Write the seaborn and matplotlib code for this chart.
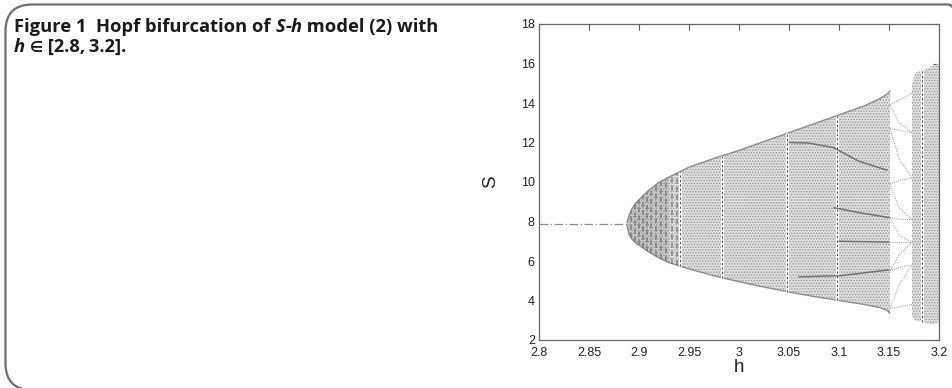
import numpy as np
import pandas as pd
import seaborn as sns
import matplotlib
matplotlib.use("Agg")
import matplotlib.pyplot as plt
from matplotlib.patches import FancyBboxPatch
from matplotlib.offsetbox import TextArea, HPacker, AnchoredOffsetbox

# ---- data -------------------------------------------------------------
# stable equilibrium before the Hopf point
fixed_h = [2.80, 2.889]
fixed_S = [7.87, 7.87]

# envelope of the invariant-circle / chaotic attractor
env_h     = [2.888, 2.890, 2.893, 2.897, 2.900, 2.910, 2.920, 2.930, 2.950, 2.975,
             3.000, 3.025, 3.050, 3.075, 3.100, 3.125, 3.140, 3.148, 3.151]
env_upper = [7.95, 8.30, 8.65, 8.95, 9.10, 9.60, 9.98, 10.25, 10.75, 11.20,
             11.60, 12.05, 12.50, 12.95, 13.40, 13.85, 14.20, 14.45, 14.60]
env_lower = [7.80, 7.35, 7.10, 6.90, 6.80, 6.45, 6.15, 5.92, 5.60, 5.25,
             4.95, 4.68, 4.43, 4.20, 4.00, 3.80, 3.65, 3.50, 3.35]

# attractor after the periodic window
env2_h     = [3.173, 3.176, 3.180, 3.185, 3.190, 3.195, 3.200]
env2_upper = [15.00, 15.50, 15.60, 15.65, 15.80, 15.90, 16.00]
env2_lower = [3.20, 3.00, 2.95, 2.90, 2.80, 2.80, 2.90]

# dense columns of iterates just past the Hopf point
dense_h = [2.892, 2.896, 2.900, 2.904, 2.908, 2.912, 2.917, 2.922, 2.927, 2.933, 2.938]

# periodic windows inside the chaotic band
window_h = [2.941, 2.983, 3.048, 3.098, 3.183]

# denser branches inside the band
branches = {
    "b1": ([3.050, 3.070, 3.094, 3.120, 3.148], [12.00, 11.97, 11.75, 11.05, 10.60]),
    "b2": ([3.095, 3.120, 3.150], [8.70, 8.45, 8.20]),
    "b3": ([3.100, 3.125, 3.150], [7.00, 6.98, 6.96]),
    "b4": ([3.060, 3.100, 3.150], [5.20, 5.25, 5.55]),
}

# periodic orbit curves between the two chaotic regions
arcs = [
    ([3.173, 3.158, 3.151], [14.50, 14.10, 13.90]),
    ([3.151, 3.160, 3.173], [13.90, 13.00, 12.50]),
    ([3.151, 3.162, 3.173], [12.70, 12.60, 12.50]),
    ([3.151, 3.160, 3.173], [12.70, 11.20, 10.20]),
    ([3.151, 3.162, 3.173], [9.90, 10.10, 10.20]),
    ([3.151, 3.160, 3.173], [9.90, 8.70, 8.10]),
    ([3.151, 3.162, 3.173], [8.20, 8.10, 8.10]),
    ([3.151, 3.162, 3.173], [6.96, 6.96, 6.96]),
    ([3.151, 3.160, 3.173], [8.20, 7.30, 6.96]),
    ([3.151, 3.160, 3.173], [5.50, 6.30, 6.96]),
    ([3.151, 3.162, 3.173], [5.50, 5.70, 5.80]),
    ([3.151, 3.160, 3.173], [3.60, 4.80, 5.80]),
    ([3.151, 3.162, 3.173], [3.60, 3.70, 3.80]),
]

x_ticks = [2.8, 2.85, 2.9, 2.95, 3.0, 3.05, 3.1, 3.15, 3.2]
x_tick_labels = ["2.8", "2.85", "2.9", "2.95", "3", "3.05", "3.1", "3.15", "3.2"]
y_ticks = [2, 4, 6, 8, 10, 12, 14, 16, 18]

# ---- style ------------------------------------------------------------
sns.set_theme(style="white")
plt.rcParams["font.family"] = ["Liberation Sans", "DejaVu Sans"]
plt.rcParams["hatch.linewidth"] = 0.6

W, H = 953, 388
fig = plt.figure(figsize=(W / 100, H / 100), dpi=100)
fig.patch.set_facecolor("white")

# rounded frame around the figure panel
frame = FancyBboxPatch((5.5 / W, 1 - 390 / H), (975 - 5.5) / W, (390 - 4.5) / H,
                       boxstyle="round,pad=0,rounding_size=0.028",
                       transform=fig.transFigure, facecolor="none",
                       edgecolor="#6e6e6e", linewidth=1.6, mutation_aspect=W / H)
fig.patches.append(frame)

ax = fig.add_axes([539 / W, (H - 340) / H, 400 / W, 316 / H])
ax.set_facecolor("white")


def band(h, lo, hi):
    ax.fill_between(h, lo, hi, facecolor="#dedede", edgecolor="none", zorder=1)
    ax.fill_between(h, lo, hi, facecolor="none", edgecolor="#959595",
                    linewidth=0, hatch="......", zorder=2)


band(env_h, env_lower, env_upper)
band(env2_h, env2_lower, env2_upper)

# darker accumulation near the Hopf point
dark = [i for i, v in enumerate(env_h) if v <= 2.935]
ax.fill_between([env_h[i] for i in dark], [env_lower[i] for i in dark],
                [env_upper[i] for i in dark], facecolor="#8a8a8a",
                edgecolor="none", alpha=0.25, zorder=3)
for hd in dense_h:
    lo = np.interp(hd, env_h, env_lower)
    hi = np.interp(hd, env_h, env_upper)
    ax.vlines(hd, lo, hi, color="#5a5a5a", lw=1.3, alpha=0.55,
              linestyles=(0, (3, 1.5)), zorder=4)

# envelope edges where iterates accumulate
ax.plot(env_h, env_upper, color="#777777", lw=1.0, alpha=0.8, zorder=4)
ax.plot(env_h, env_lower, color="#777777", lw=1.0, alpha=0.8, zorder=4)

# periodic windows
for hw in window_h:
    if hw < env_h[-1]:
        lo = np.interp(hw, env_h, env_lower)
        hi = np.interp(hw, env_h, env_upper)
    else:
        lo = np.interp(hw, env2_h, env2_lower)
        hi = np.interp(hw, env2_h, env2_upper)
    ax.vlines(hw, lo, hi, color="white", lw=2.2, zorder=5)
    ax.vlines(hw, lo, hi, color="#555555", lw=0.8, linestyles=(0, (2, 2)), zorder=6)

# branches inside the band
for name, (bh, bs) in branches.items():
    sns.lineplot(x=bh, y=bs, ax=ax, color="#555555", lw=1.1, alpha=0.75,
                 estimator=None, sort=False, zorder=7)

# periodic orbit curves
for ah, as_ in arcs:
    sns.lineplot(x=ah, y=as_, ax=ax, color="#9a9a9a", lw=0.7,
                 linestyle=(0, (1, 1.2)), estimator=None, sort=False, zorder=7)

# equilibrium branch
sns.lineplot(x=fixed_h, y=fixed_S, ax=ax, color="#8a8a8a", lw=0.9,
             linestyle=(0, (7, 2, 1, 2)), estimator=None, zorder=7)

ax.set_xlim(2.8, 3.2)
ax.set_ylim(2, 18)
ax.set_xticks(x_ticks)
ax.set_xticklabels(x_tick_labels)
ax.set_yticks(y_ticks)
ax.tick_params(direction="in", top=True, right=True, length=4, width=0.8,
               color="#555555", labelsize=9, labelcolor="#222222", pad=3)
ax.tick_params(axis="x", pad=5)
for s in ax.spines.values():
    s.set_visible(True)
    s.set_color("#666666")
    s.set_linewidth(0.9)
ax.set_xlabel("h", fontsize=13.5, color="#222222", labelpad=0)
ax.set_ylabel("S", fontsize=13.5, color="#222222", labelpad=16)

# caption with italic variable names
bold = dict(fontsize=13.2, fontweight="bold", color="#1a1a1a",
            family=["Open Sans", "DejaVu Sans"])
boldit = dict(bold, fontstyle="italic")
small = dict(bold, fontsize=10.5)


def caption_line(parts, top_px):
    box = HPacker(children=[TextArea(t, textprops=p) for t, p in parts],
                  align="baseline", pad=0, sep=0)
    anc = AnchoredOffsetbox(loc="upper left", child=box, pad=0, borderpad=0,
                            frameon=False, bbox_to_anchor=(14 / W, 1 - top_px / H),
                            bbox_transform=fig.transFigure)
    fig.add_artist(anc)


caption_line([("Figure 1  Hopf bifurcation of ", bold), ("S", boldit), ("-", bold),
              ("h", boldit), (" model (2) with", bold)], 18)
caption_line([("h", boldit), (" ", bold), ("\u2208", small),
              (" [2.8,\u20093.2].", bold)], 38)

fig.savefig("out.png", dpi=100, facecolor="white")
